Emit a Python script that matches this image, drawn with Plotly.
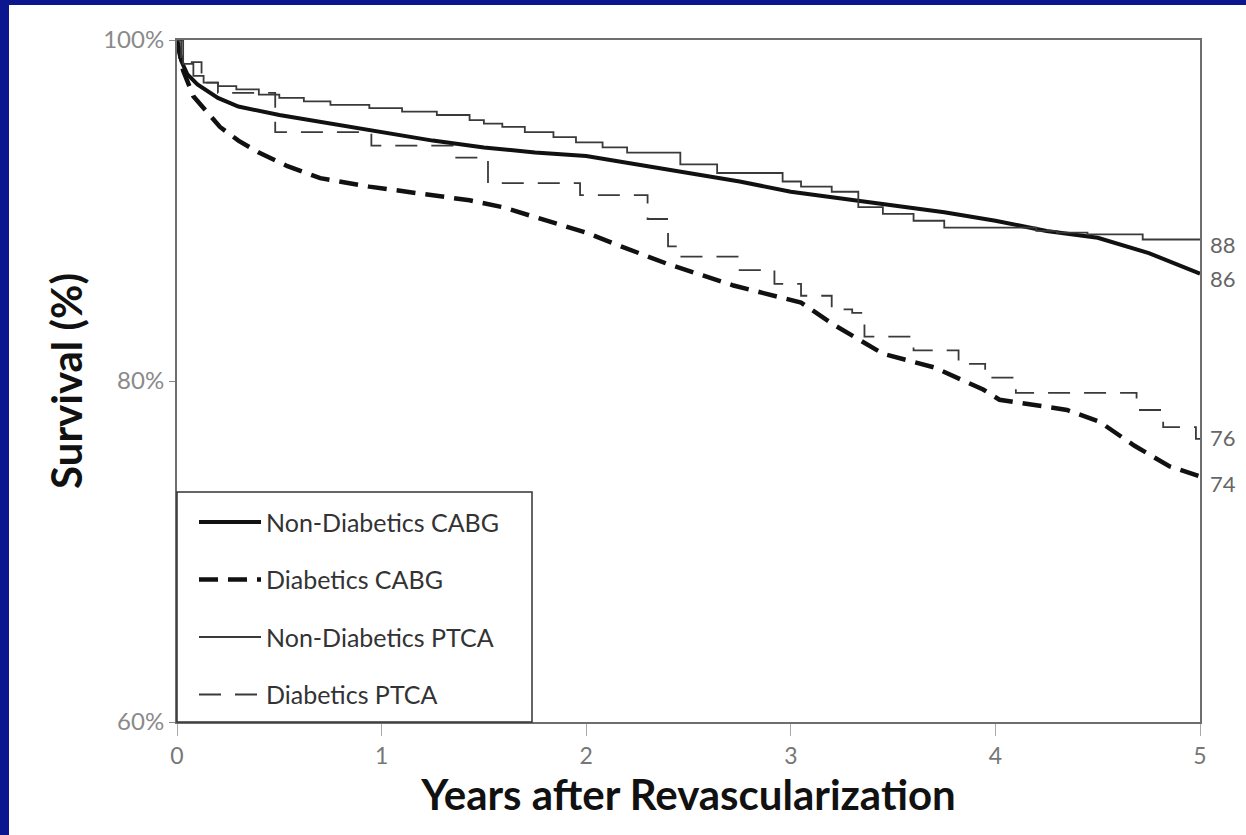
import plotly.graph_objects as go

# ---------------- data ----------------
series_names = ["Non-Diabetics CABG", "Diabetics CABG", "Non-Diabetics PTCA", "Diabetics PTCA"]

nd_cabg_x = [0, 0.02, 0.05, 0.1, 0.2, 0.3, 0.5, 0.75, 1.0, 1.25, 1.5, 1.75, 2.0, 2.25, 2.5, 2.75,
             3.0, 3.25, 3.5, 3.75, 4.0, 4.25, 4.5, 4.75, 5.0]
nd_cabg_y = [100, 98.8, 98.0, 97.4, 96.6, 96.1, 95.6, 95.1, 94.6, 94.1, 93.7, 93.4, 93.2, 92.7, 92.2, 91.7,
             91.1, 90.7, 90.3, 89.9, 89.4, 88.8, 88.4, 87.5, 86.3]

d_cabg_x = [0, 0.03, 0.08, 0.15, 0.21, 0.3, 0.4, 0.54, 0.7, 0.94, 1.19, 1.43, 1.59, 1.76, 2.0, 2.17,
            2.39, 2.72, 3.05, 3.21, 3.45, 3.7, 3.94, 4.02, 4.35, 4.51, 4.68, 4.85, 5.0]
d_cabg_y = [100, 98.2, 96.7, 95.7, 94.9, 94.1, 93.4, 92.6, 91.9, 91.4, 91.0, 90.6, 90.2, 89.6, 88.7, 87.9,
            86.9, 85.6, 84.6, 83.3, 81.6, 80.8, 79.5, 78.9, 78.3, 77.6, 76.2, 75.0, 74.4]

nd_ptca_x = [0, 0.03, 0.08, 0.13, 0.2, 0.29, 0.4, 0.5, 0.62, 0.75, 0.94, 1.1, 1.27, 1.43, 1.5, 1.59,
             1.7, 1.84, 1.95, 2.08, 2.2, 2.46, 2.64, 2.96, 3.05, 3.2, 3.33, 3.45, 3.6, 3.75, 4.2, 4.3,
             4.45, 4.72, 5.0]
nd_ptca_y = [100, 98.6, 97.9, 97.5, 97.3, 97.1, 96.8, 96.6, 96.4, 96.2, 96.0, 95.8, 95.6, 95.3, 95.1, 94.9,
             94.6, 94.3, 94.0, 93.7, 93.4, 92.7, 92.2, 91.7, 91.4, 91.1, 90.2, 89.8, 89.4, 89.0, 88.8, 88.7,
             88.6, 88.3, 88.3]

d_ptca_x = [0, 0.02, 0.12, 0.2, 0.48, 0.95, 1.35, 1.52, 1.97, 2.3, 2.4, 2.45, 2.75, 2.92, 3.05, 3.2,
            3.3, 3.36, 3.6, 3.82, 3.95, 4.1, 4.69, 4.82, 4.98, 5.0]
d_ptca_y = [100, 98.7, 97.5, 96.9, 94.6, 93.8, 93.1, 91.6, 90.9, 89.5, 87.9, 87.3, 86.5, 85.7, 85.0, 84.2,
            84.0, 82.6, 81.8, 81.0, 80.2, 79.3, 78.3, 77.3, 76.6, 76.6]

end_labels = ["88", "86", "76", "74"]
end_label_values = [88, 86, 76.7, 74]

y_tick_vals = [60, 80, 100]
y_tick_text = ["60%", "80%", "100%"]
x_tick_vals = [0, 1, 2, 3, 4, 5]

# ---------------- figure ----------------
fig = go.Figure()

fig.add_trace(go.Scatter(x=nd_cabg_x, y=nd_cabg_y, mode="lines", name=series_names[0],
                         legendgroup="a", line=dict(color="#111111", width=4)))
fig.add_trace(go.Scatter(x=d_cabg_x, y=d_cabg_y, mode="lines", name=series_names[1],
                         legendgroup="b", line=dict(color="#111111", width=4.5, dash="19px,10px")))
fig.add_trace(go.Scatter(x=nd_ptca_x, y=nd_ptca_y, mode="lines", name=series_names[2],
                         legendgroup="c", line=dict(color="#3a3a3a", width=1.8, shape="hv")))
fig.add_trace(go.Scatter(x=d_ptca_x, y=d_ptca_y, mode="lines", name=series_names[3],
                         legendgroup="d", line=dict(color="#3a3a3a", width=1.8, shape="hv", dash="22px,14px")))

for txt, val in zip(end_labels, end_label_values):
    fig.add_annotation(x=5, y=val, xref="x", yref="y", text=txt, showarrow=False,
                       xanchor="left", xshift=8,
                       font=dict(family="Lato", size=22, color="#666666"))

axis_common = dict(showline=True, linecolor="#6e6e6e", linewidth=2, mirror=True,
                   showgrid=False, zeroline=False)

fig.update_xaxes(range=[0, 5], tickvals=x_tick_vals, ticks="outside", ticklen=12, tickwidth=1,
                 tickcolor="#aaaaaa",
                 tickfont=dict(family="Lato", size=23, color="#777777"),
                 title=dict(text="<b>Years after Revascularization</b>", standoff=13,
                            font=dict(family="Lato", size=42, color="#111111")),
                 **axis_common)
fig.update_yaxes(range=[60, 100], tickvals=y_tick_vals, ticktext=y_tick_text, ticks="outside",
                 ticklen=6, tickwidth=1, tickcolor="#888888",
                 tickfont=dict(family="Lato", size=24, color="#8a8a8a"),
                 title=dict(text="<b>Survival (%)</b>", standoff=8,
                            font=dict(family="Lato", size=42, color="#111111")),
                 **axis_common)

# legend frame
fig.add_shape(type="rect", xref="paper", yref="paper",
              x0=0, x1=(532 - 177) / 1023, y0=0, y1=(722 - 492) / 682,
              fillcolor="rgba(0,0,0,0)", line=dict(color="#333333", width=1.5), layer="above")

# blue frame strips of the slide (top and left)
fig.add_shape(type="rect", xref="paper", yref="paper",
              x0=-177 / 1023, x1=(9 - 177) / 1023, y0=-113 / 682, y1=722 / 682,
              fillcolor="#0c168f", line=dict(width=0), layer="above")
fig.add_shape(type="rect", xref="paper", yref="paper",
              x0=-177 / 1023, x1=(1246 - 177) / 1023, y0=(722 - 5) / 682, y1=722 / 682,
              fillcolor="#0c168f", line=dict(width=0), layer="above")

fig.update_layout(
    width=1246, height=835,
    margin=dict(l=177, r=46, t=40, b=113),
    paper_bgcolor="white", plot_bgcolor="white",
    showlegend=True,
    legend=dict(x=(194 - 177) / 1023, y=0.007, xanchor="left", yanchor="bottom",
                bgcolor="rgba(0,0,0,0)", borderwidth=0,
                font=dict(family="Lato", size=25, color="#333333"),
                traceorder="grouped", tracegroupgap=22, itemwidth=62),
)

fig.write_html("out.html")
